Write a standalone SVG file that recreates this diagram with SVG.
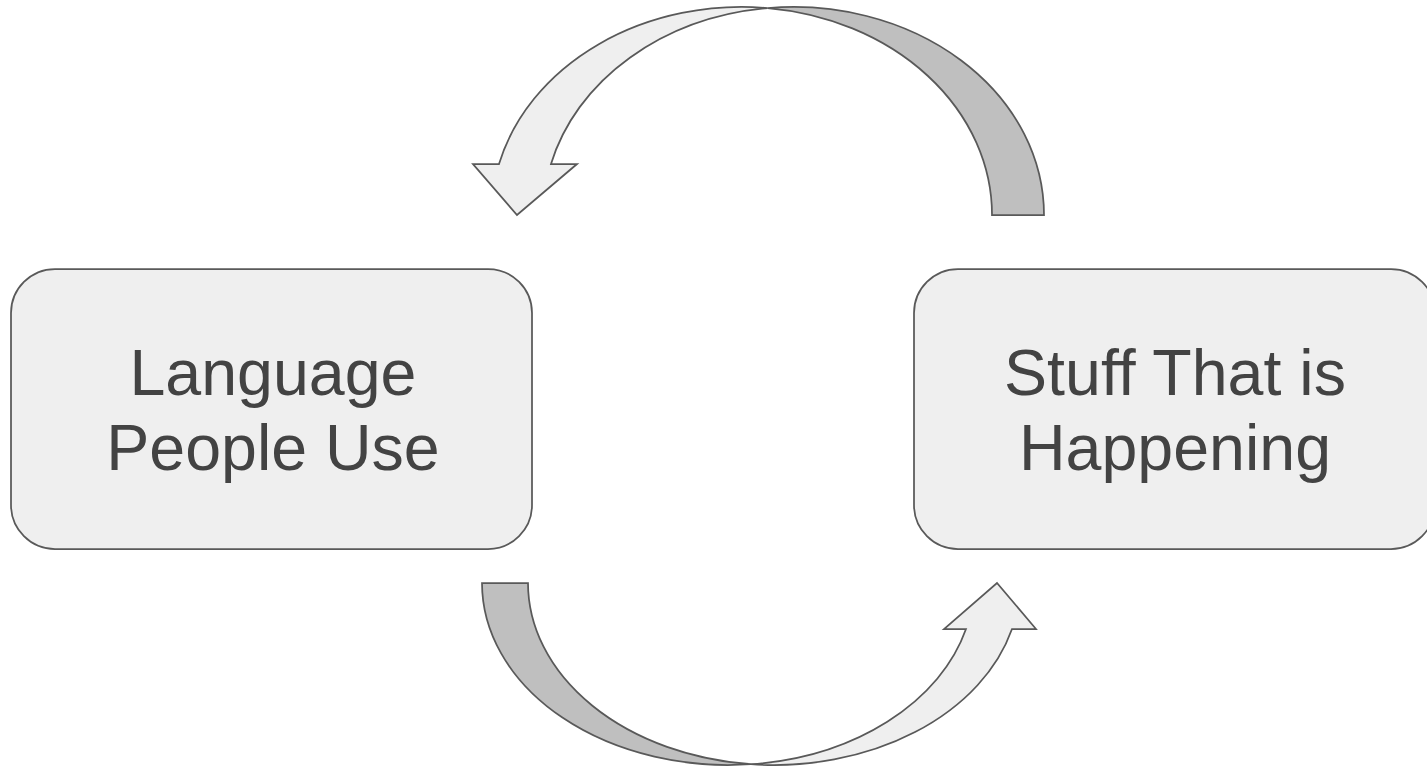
<svg xmlns="http://www.w3.org/2000/svg" width="1427" height="767" viewBox="0 0 1427 767">
  <style>
    .box { fill: #efefef; stroke: #595959; stroke-width: 1.75; }
    .label { font-family: "Liberation Sans", Arial, sans-serif; font-size: 64.5px; fill: #434343; text-anchor: middle; }
    .front { fill: #efefef; stroke: #595959; stroke-width: 1.75; stroke-linejoin: miter; }
    .back { fill: #bfbfbf; stroke: #595959; stroke-width: 1.75; stroke-linejoin: miter; }
  </style>
  <rect width="1427" height="767" fill="#ffffff"/>

  <!-- curved arrows between the two boxes -->
  <g id="connectors">
    <g id="arrow-top">
      <path class="back" d="M767.7,8.1 A250.3,208 0 0 1 1044,215 L992,215 A250.3,208 0 0 0 767.7,8.1 Z"/>
      <path class="front" d="M499,164 A250.3,208 0 0 1 767.7,8.1 A250.3,208 0 0 0 551,164 L577,164 L517,215 L473,164 Z"/>
    </g>
    <g id="arrow-bottom">
      <path class="back" d="M482,583 A246,182 0 0 0 751,764.2 A246,182 0 0 1 528,583 Z"/>
      <path class="front" d="M751,764.2 A246,182 0 0 0 1012,629 L1036,629 L997,583 L944,629 L966,629 A246,182 0 0 1 751,764.2 Z"/>
    </g>
  </g>

  <g id="node-language">
    <rect class="box" x="11" y="269" width="521" height="280" rx="44" ry="44"/>
    <text class="label" x="273" y="395">Language</text>
    <text class="label" x="273" y="470">People Use</text>
  </g>

  <g id="node-stuff">
    <rect class="box" x="914" y="269" width="521" height="280" rx="44" ry="44"/>
    <text class="label" x="1175" y="395">Stuff That is</text>
    <text class="label" x="1175" y="470">Happening</text>
  </g>
</svg>
